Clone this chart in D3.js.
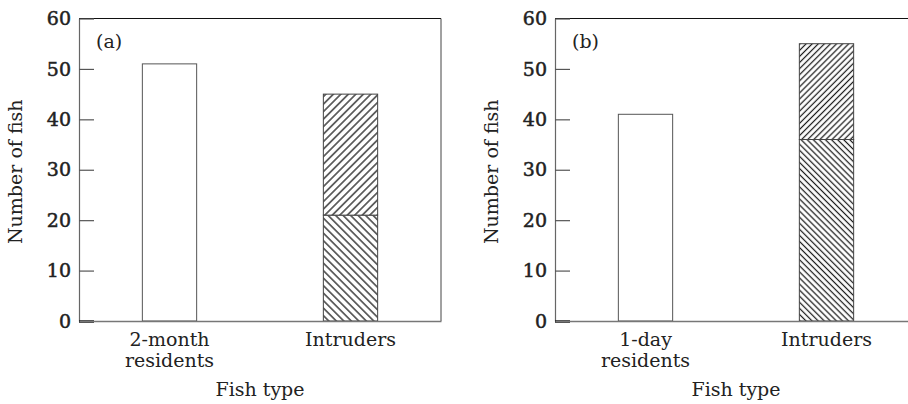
<!DOCTYPE html>
<html>
<head>
<meta charset="utf-8">
<script src="https://cdn.jsdelivr.net/npm/d3@7"></script>
<style>
  body { margin: 0; background: #fff; }
  svg { display: block; }
  text { font-family: "DejaVu Serif", "Liberation Serif", serif; fill: #222; }
</style>
</head>
<body>
<svg id="chart" width="908" height="404"></svg>
<script>
// ---- data ----
const panelLabels = ["(a)", "(b)"];
const residentCategories = ["2-month residents", "1-day residents"];
const intruderCategory = "Intruders";
const residentValues = [51, 41];
const intruderLower = [21, 36];   // "\" hatched part
const intruderUpper = [24, 19];   // "/" hatched part (totals 45, 55)
const yTicks = [0, 10, 20, 30, 40, 50, 60];
const yTitle = "Number of fish";
const xTitle = "Fish type";

// ---- layout ----
const svg = d3.select("#chart");
const panelLeft = [79, 555];
const plotW = 362, plotTop = 18.5, plotBottom = 321;
const hatchSpacing = [5.3, 4.3];

const defs = svg.append("defs");
function makePattern(id, angle, s) {
  const p = defs.append("pattern")
    .attr("id", id)
    .attr("patternUnits", "userSpaceOnUse")
    .attr("width", s).attr("height", s)
    .attr("patternTransform", `rotate(${angle})`);
  p.append("rect").attr("width", s).attr("height", s).attr("fill", "#fff");
  p.append("line").attr("x1", s / 2).attr("x2", s / 2).attr("y1", 0).attr("y2", s)
    .attr("stroke", "#1a1a1a").attr("stroke-width", 1.25);
}

const y = d3.scaleLinear().domain([0, 60]).range([plotBottom, plotTop]);

panelLabels.forEach((lab, i) => {
  makePattern(`fwd${i}`, 45, hatchSpacing[i]);
  makePattern(`back${i}`, -45, hatchSpacing[i]);

  const g = svg.append("g").attr("transform", `translate(${panelLeft[i]},0)`);
  const cats = [residentCategories[i], intruderCategory];
  const x = d3.scaleBand().domain(cats).range([0, plotW])
    .paddingInner(0.7).paddingOuter(0.35);

  // frame: top and right
  g.append("line").attr("x1", 0).attr("x2", plotW).attr("y1", plotTop).attr("y2", plotTop)
    .attr("stroke", "#111").attr("stroke-width", 1.2);
  g.append("line").attr("x1", plotW).attr("x2", plotW).attr("y1", plotTop).attr("y2", plotBottom)
    .attr("stroke", "#444").attr("stroke-width", 1);

  // bars
  g.append("rect")
    .attr("x", x(cats[0])).attr("width", x.bandwidth())
    .attr("y", y(residentValues[i])).attr("height", y(0) - y(residentValues[i]))
    .attr("fill", "#fff").attr("stroke", "#555").attr("stroke-width", 1);
  const lowTop = intruderLower[i];
  const total = intruderLower[i] + intruderUpper[i];
  g.append("rect")
    .attr("x", x(cats[1])).attr("width", x.bandwidth())
    .attr("y", y(lowTop)).attr("height", y(0) - y(lowTop))
    .attr("fill", `url(#back${i})`).attr("stroke", "#444").attr("stroke-width", 1);
  g.append("rect")
    .attr("x", x(cats[1])).attr("width", x.bandwidth())
    .attr("y", y(total)).attr("height", y(lowTop) - y(total))
    .attr("fill", `url(#fwd${i})`).attr("stroke", "#444").attr("stroke-width", 1);

  // y axis (inward ticks)
  const ya = g.append("g").call(d3.axisLeft(y).tickValues(yTicks)
    .tickSizeInner(-15).tickSizeOuter(0).tickPadding(8).tickFormat(d3.format("d")));
  ya.select(".domain").attr("stroke", "#666").attr("stroke-width", 1.2);
  ya.selectAll(".tick line").attr("stroke", d => d === 0 ? "#111" : "#555")
    .attr("stroke-width", d => d === 0 ? 2.5 : 1.2);
  ya.selectAll(".tick text").style("font-size", "19px")
    .attr("fill", "#222").attr("stroke", "#222").attr("stroke-width", 0.5);

  // x axis
  const xa = g.append("g").attr("transform", `translate(0,${plotBottom})`)
    .call(d3.axisBottom(x).tickSize(0).tickPadding(0));
  xa.select(".domain").attr("stroke", "#777").attr("stroke-width", 1.5);
  xa.selectAll(".tick text").each(function(d) {
    const t = d3.select(this);
    t.text(null).attr("y", 0).attr("dy", null).style("font-size", "19px");
    const sp = d.indexOf(" ");
    const lines = sp > 0 ? [d.slice(0, sp), d.slice(sp + 1)] : [d];
    lines.forEach((ln, k) => {
      t.append("tspan").attr("x", 0).attr("y", 25 + k * 21).text(ln);
    });
  });

  // panel label
  g.append("text").attr("x", 17).attr("y", 48).style("font-size", "19px").text(lab);

  // titles
  g.append("text").attr("x", plotW / 2).attr("y", 396).attr("text-anchor", "middle")
    .style("font-size", "19px").text(xTitle);
  g.append("text").attr("transform", `translate(-57,${(plotTop + plotBottom) / 2 + 2}) rotate(-90)`)
    .attr("text-anchor", "middle").style("font-size", "19px").text(yTitle);
});
</script>
</body>
</html>
